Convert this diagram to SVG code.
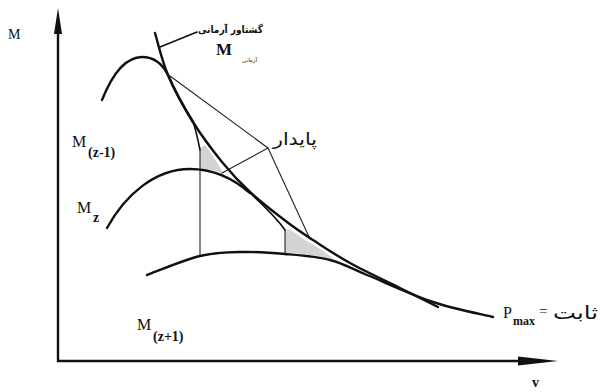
<svg xmlns="http://www.w3.org/2000/svg" width="601" height="392" viewBox="0 0 601 392">
<style>
.thick{fill:none;stroke:#111;stroke-width:2.4;stroke-linecap:round;stroke-linejoin:round}
.med{fill:none;stroke:#111;stroke-width:1.6;stroke-linecap:round}
.thin{fill:none;stroke:#222;stroke-width:1.1;stroke-linecap:round}
.gray{fill:#d4d4d4;stroke:none}
.lat{font-family:"Liberation Serif","Times New Roman",serif;fill:#111}
.fa{font-family:"DejaVu Sans","Noto Sans",sans-serif;fill:#111}
</style>
<rect width="601" height="392" fill="#fff"/>
<g id="axes">
<line x1="58" y1="362" x2="58" y2="30" stroke="#111" stroke-width="2.4"/>
<polygon points="58,8 54,34 62,34" fill="#111"/>
<line x1="57" y1="361" x2="525" y2="361" stroke="#111" stroke-width="2.4"/>
<polygon points="558,361 518,356.5 518,365.5" fill="#111"/>
<text class="lat" x="8" y="39" font-size="14">M</text>
<text class="lat" x="532" y="387" font-size="14" font-weight="bold">v</text>
</g>
<g id="shading">
<polygon class="gray" points="200,148 200,170 212,170 224,174 218,164 211,153 205,145"/>
<polygon class="gray" points="285,230 285,253 300,254 318,256 334,259 322,250 305,240 295,233 289,229"/>
</g>
<g id="connectors">
<line class="thin" x1="200" y1="150" x2="200" y2="255"/>
<line class="thin" x1="285" y1="230" x2="285" y2="254"/>
<polyline class="thin" points="170,76 268,148 222,173"/>
<line class="thin" x1="268" y1="148" x2="310" y2="239"/>
<line class="med" x1="160" y1="47" x2="197" y2="32"/>
</g>
<g id="envelope">
<path class="thick" d="M155,33 C157.2,40 161.7,60.2 168,75 C174.3,89.8 184,107.5 193,122 C202,136.5 212.5,150.3 222,162 C231.5,173.7 239.2,182 250,192 C260.8,202 276.5,214 287,222 C297.5,230 302.5,233.2 313,240 C323.5,246.8 335.5,255 350,263 C364.5,271 385.3,280.7 400,288 C414.7,295.3 431.7,303.8 438,307"/>
<text class="fa" x="198" y="33" font-size="10.5" font-weight="bold" textLength="65" lengthAdjust="spacingAndGlyphs">گشتاور آرمانی</text>
<text class="lat" x="216" y="55" font-size="17" font-weight="bold">M</text>
<text class="fa" x="257" y="62" font-size="5.5" text-anchor="end">آرمانی</text>
<text class="lat" x="503" y="318" font-size="16">P</text>
<text class="lat" x="513" y="325" font-size="12" font-weight="bold">max</text>
<text class="lat" x="539" y="316" font-size="15">=</text>
<text class="fa" x="553" y="319" font-size="18" textLength="45" lengthAdjust="spacingAndGlyphs">ثابت</text>
</g>
<g id="curve-z-minus-1">
<path class="thick" d="M102,100 C112,75 125,57 142,57 C155,57 163,65 168,75 C174.3,89.8 184,107.5 193,122"/>
<path class="med" d="M193,122 C196,130 198,140 200,150"/>
<text class="lat" x="72" y="147" font-size="16">M</text>
<text class="lat" x="88" y="157" font-size="14" font-weight="bold">(z-1)</text>
</g>
<g id="curve-z">
<path class="thick" d="M107,228 C125,195 155,169 190,169 C215,169 235,180 250,193"/>
<path class="med" d="M250,193 C262,204 275,216 285,230"/>
<text class="lat" x="77" y="213" font-size="16">M</text>
<text class="lat" x="93" y="222" font-size="14" font-weight="bold">z</text>
</g>
<g id="curve-z-plus-1">
<path class="thick" d="M147,275 C155.8,271.8 184,259.8 200,256 C216,252.2 228.8,252.3 243,252 C257.2,251.7 270.5,252.7 285,254 C299.5,255.3 316.3,256.5 330,260 C343.7,263.5 349.8,268 367,275 C384.2,282 412,295 433,302 C454,309 483,314.5 493,317"/>
<text class="lat" x="137" y="330" font-size="16">M</text>
<text class="lat" x="153" y="341" font-size="14" font-weight="bold">(z+1)</text>
</g>
<g id="stable-label">
<text class="fa" x="273" y="145" font-size="17" textLength="44" lengthAdjust="spacingAndGlyphs">پایدار</text>
</g>
</svg>
